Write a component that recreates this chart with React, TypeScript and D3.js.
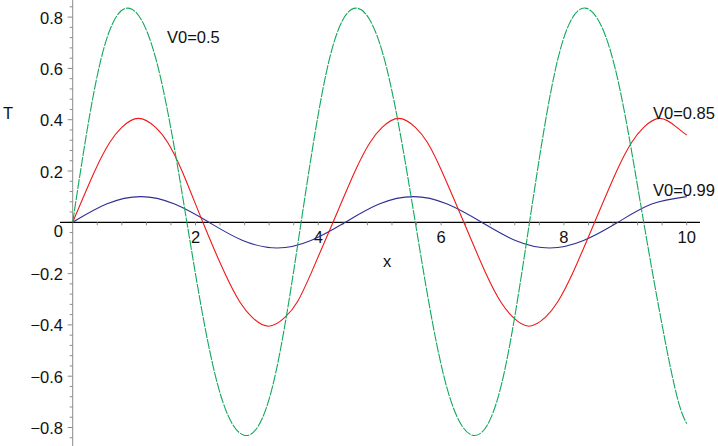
import React from 'react';
import * as d3 from 'd3';

// tick labels
const xTicks = [2, 4, 6, 8, 10];
const yTicks = [-0.8, -0.6, -0.4, -0.2, 0.2, 0.4, 0.6, 0.8];

// series V0=0.5 (green)
const greenX = [0, 0.465, 0.93, 1.395, 1.86, 2.325, 2.79, 3.255, 3.72, 4.185, 4.65,
  5.115, 5.58, 6.045, 6.51, 6.975, 7.44, 7.905, 8.37, 8.835, 9.3, 9.765, 10];
const greenT = [0, 0.64, 0.834, 0.6, 0, -0.6, -0.83, -0.64, 0, 0.64, 0.834,
  0.6, 0, -0.6, -0.83, -0.64, 0, 0.64, 0.834, 0.6, 0, -0.6, -0.785];

// series V0=0.85 (red)
const redX = [0, 0.36, 0.6, 0.8, 1.07, 1.35, 1.55, 1.78, 2.12,
  2.48, 2.72, 2.92, 3.19, 3.46, 3.66, 3.88, 4.24,
  4.6, 4.84, 5.04, 5.31, 5.58, 5.78, 6.01, 6.37,
  6.73, 6.97, 7.17, 7.43, 7.7, 7.9, 8.14, 8.5,
  8.86, 9.1, 9.3, 9.57, 9.84, 10];
const redT = [0, 0.2, 0.31, 0.37, 0.405, 0.37, 0.31, 0.2, 0,
  -0.2, -0.31, -0.37, -0.405, -0.37, -0.31, -0.2, 0,
  0.2, 0.31, 0.37, 0.405, 0.37, 0.31, 0.2, 0,
  -0.2, -0.31, -0.37, -0.405, -0.37, -0.31, -0.2, 0,
  0.2, 0.31, 0.37, 0.405, 0.37, 0.34];

// series V0=0.99 (blue)
const blueX = [0, 0.55, 1.11, 1.66, 2.22, 2.77, 3.33, 3.88, 4.44, 4.99, 5.55,
  6.1, 6.66, 7.21, 7.77, 8.32, 8.88, 9.43, 10];
const blueT = [0, 0.071, 0.1, 0.071, 0, -0.071, -0.1, -0.071, 0, 0.071, 0.1,
  0.071, 0, -0.071, -0.1, -0.071, 0, 0.071, 0.1];

const seriesLabels = ['V0=0.5', 'V0=0.85', 'V0=0.99'];

export default function App() {
  const W = 718, H = 446;
  const x = d3.scaleLinear().domain([0, 10]).range([72.7, 686.7]);
  const y = d3.scaleLinear().domain([-0.8, 0.8]).range([427.5, 17.1]);
  const fmt = d3.format('.1f');

  const mk = (xs: number[], ts: number[], curve: d3.CurveFactory) =>
    d3.line<number>().x((_, i) => x(xs[i])).y(d => y(d)).curve(curve)(ts) || '';

  const xMinor = d3.range(0, 10.001, 0.4).filter(v => v > 0.01);
  const yMinor = d3.range(-0.84, 0.8601, 0.04);
  const font = '"Liberation Sans", Arial, Helvetica, sans-serif';

  return (
    <svg width={W} height={H} style={{ position: 'fixed', left: 0, top: 0, background: '#fff' }}
      fontFamily={font}>
      {/* y axis */}
      <line x1={x(0)} x2={x(0)} y1={0} y2={H} stroke="#8a8a8a" strokeWidth={1} />
      {yMinor.map((v, i) => {
        const major = Math.abs(Math.round(v * 5) - v * 5) < 1e-6;
        return <line key={'ym' + i} x1={x(0) - (major ? 5 : 3)} x2={x(0)} y1={y(v)} y2={y(v)}
          stroke="#8a8a8a" strokeWidth={1} />;
      })}
      {yTicks.map(v => (
        <text key={'yl' + v} x={63} y={y(v) + 6.5} textAnchor="end" fontSize={16.5} fill="#111">{fmt(v)}</text>
      ))}
      <text x={63} y={237} textAnchor="end" fontSize={16.5} fill="#111">0</text>
      {/* x axis */}
      <line x1={60} x2={700} y1={y(0)} y2={y(0)} stroke="#000" strokeWidth={1.2} />
      {xMinor.map((v, i) => (
        <line key={'xm' + i} x1={x(v)} x2={x(v)} y1={y(0)} y2={y(0) + 3} stroke="#8a8a8a" strokeWidth={1} />
      ))}
      {xTicks.map(v => (
        <text key={'xl' + v} x={x(v)} y={243} textAnchor="middle" fontSize={16.5} fill="#111">{v}</text>
      ))}
      <text x={387} y={267} textAnchor="middle" fontSize={16.5} fill="#111">x</text>
      <text x={3} y={118.5} fontSize={16.5} fill="#111">T</text>

      {/* curves */}
      <path d={mk(blueX, blueT, d3.curveNatural)} fill="none" stroke="#2e2e95" strokeWidth={1.1} />
      <path d={mk(redX, redT, d3.curveNatural)} fill="none" stroke="#f01818" strokeWidth={1.1} />
      <path d={mk(greenX, greenT, d3.curveNatural)} fill="none" stroke="#12a85c" strokeWidth={1.1}
        strokeDasharray="10 1.2" />

      {/* series labels */}
      <text x={167} y={42.7} fontSize={16.5} fill="#111">{seriesLabels[0]}</text>
      <text x={653} y={119} fontSize={16.5} fill="#111">{seriesLabels[1]}</text>
      <text x={653} y={196} fontSize={16.5} fill="#111">{seriesLabels[2]}</text>
    </svg>
  );
}
